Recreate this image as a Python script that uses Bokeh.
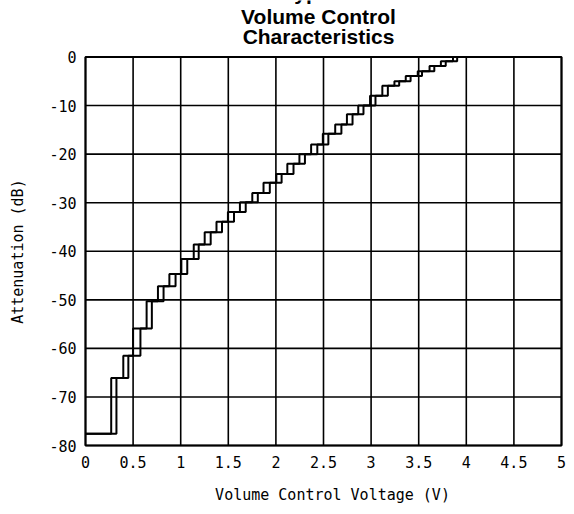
from bokeh.plotting import figure
from bokeh.models import Range1d, FixedTicker, Label
from bokeh.embed import file_html
from bokeh.resources import INLINE

# Attenuation levels (dB) of the staircase, bottom to top
levels = [-77.6, -66.1, -61.5, -55.9, -50.3, -47.2, -44.7, -41.6, -38.6, -36.1,
          -33.9, -31.9, -29.9, -28.0, -25.9, -24.1, -22.0, -20.0, -18.0, -15.8,
          -13.9, -11.8, -10.0, -8.0, -5.9, -5.0, -3.9, -2.95, -1.84, -0.9, 0.0]
# Voltages (V) at which each step rises: two hysteresis traces
rise_a = [0.27, 0.397, 0.50, 0.642, 0.761, 0.881, 1.007, 1.137, 1.252, 1.376,
          1.496, 1.622, 1.752, 1.87, 2.005, 2.12, 2.247, 2.37, 2.493, 2.623,
          2.746, 2.865, 2.989, 3.118, 3.245, 3.364, 3.49, 3.614, 3.733, 3.86]
rise_b = [0.325, 0.45, 0.577, 0.697, 0.82, 0.946, 1.069, 1.189, 1.315, 1.434,
          1.56, 1.683, 1.81, 1.936, 2.06, 2.185, 2.305, 2.435, 2.551, 2.688,
          2.805, 2.92, 3.046, 3.176, 3.295, 3.415, 3.535, 3.664, 3.784, 3.904]

x_ticks = [0, 0.5, 1, 1.5, 2, 2.5, 3, 3.5, 4, 4.5, 5]
x_tick_labels = ["0", "0.5", "1", "1.5", "2", "2.5", "3", "3.5", "4", "4.5", "5"]
y_ticks = [0, -10, -20, -30, -40, -50, -60, -70, -80]
y_tick_labels = ["0", "-10", "-20", "-30", "-40", "-50", "-60", "-70", "-80"]

title_lines = ["Typical", "Volume Control", "Characteristics"]
x_title = "Volume Control Voltage (V)"
y_title = "Attenuation (dB)"

x_min, x_max = x_ticks[0], x_ticks[-1]
y_min, y_max = y_ticks[-1], y_ticks[0]

# layout geometry (pixels)
W, H = 566, 506
box_left, box_right, box_top, box_bottom = 85, 561, 57, 449
pad = 3
px_x = (box_right - box_left) / (x_max - x_min)
px_y = (box_bottom - box_top) / (y_max - y_min)
frame_left, frame_right = box_left - pad, box_right + pad
frame_bottom = box_bottom + pad

x_range = Range1d(x_min - pad / px_x, x_max + pad / px_x)
y_range = Range1d(y_min - pad / px_y, y_max + box_top / px_y)

p = figure(width=W, height=H, output_backend="svg", toolbar_location=None,
           x_range=x_range, y_range=y_range,
           min_border_left=frame_left, min_border_right=W - frame_right,
           min_border_top=0, min_border_bottom=H - frame_bottom)

p.outline_line_color = None
p.xgrid.visible = False
p.ygrid.visible = False

for ax in (p.xaxis[0], p.yaxis[0]):
    ax.axis_line_color = None
    ax.major_tick_out = 0
    ax.major_tick_in = 0
    ax.minor_tick_out = 0
    ax.minor_tick_in = 0
    ax.major_label_text_font = "DejaVu Sans Mono"
    ax.major_label_text_font_size = "15px"
    ax.major_label_text_color = "black"
    ax.axis_label_text_font = "DejaVu Sans Mono"
    ax.axis_label_text_font_size = "15px"
    ax.axis_label_text_font_style = "normal"
    ax.axis_label_text_color = "black"

p.xaxis.ticker = FixedTicker(ticks=x_ticks)
p.xaxis.major_label_overrides = dict(zip(x_ticks, x_tick_labels))
p.yaxis.ticker = FixedTicker(ticks=y_ticks)
p.yaxis.major_label_overrides = dict(zip(y_ticks, y_tick_labels))
# non-breaking spaces nudge the centred labels onto the plot box centre
p.xaxis.axis_label = "\u00a0\u00a0" + x_title
p.yaxis.axis_label = y_title + "\u00a0" * 6
p.xaxis.major_label_standoff = 7
p.xaxis.axis_label_standoff = 15
p.yaxis.major_label_standoff = 6
p.yaxis.axis_label_standoff = 19

# grid lines and plot box
p.segment(x0=x_ticks, y0=y_min, x1=x_ticks, y1=y_max, line_color="black", line_width=1.6)
p.segment(x0=x_min, y0=y_ticks, x1=x_max, y1=y_ticks, line_color="black", line_width=1.6)
p.quad(left=x_min, right=x_max, bottom=y_min, top=y_max, fill_color=None,
       line_color="black", line_width=2)

p.step([0] + rise_a, levels, mode="after", line_color="black", line_width=2)
p.step([0] + rise_b, levels, mode="after", line_color="black", line_width=2)

# title lines (anchor heights in canvas pixels converted to data units)
title_cx = 318
for txt, base in zip(title_lines, [-8.0, 15.7, 36.3]):
    p.add_layout(Label(x=x_min + (title_cx - box_left) / px_x,
                       y=y_max + (box_top - base) / px_y,
                       text=txt, text_align="center", text_baseline="alphabetic",
                       text_font="Liberation Sans", text_font_style="bold",
                       text_font_size="21px", text_color="black"))

open("out.html", "w").write(file_html(p, INLINE))
